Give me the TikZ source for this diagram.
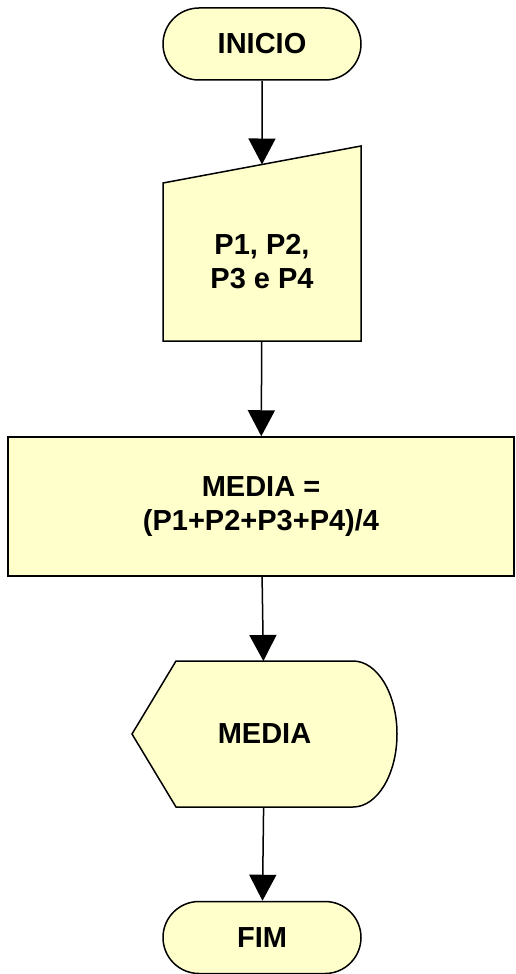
\documentclass[tikz,border=0pt]{standalone}
\usepackage{fontspec}
\setmainfont{Liberation Sans}
\usetikzlibrary{arrows.meta,shapes.misc,backgrounds}
\definecolor{boxfill}{HTML}{FFFFCC}

\begin{document}
\begin{tikzpicture}[x=0.5pt, y=-0.5pt,
    every node/.style={font=\fontsize{14.5pt}{17pt}\selectfont\bfseries, align=center},
    terminal/.style={rounded rectangle, draw, fill=boxfill, line width=0.75pt,
        minimum width=99pt, minimum height=36pt, inner sep=0pt},
    process/.style={rectangle, draw, fill=boxfill, line width=0.75pt,
        minimum width=253pt, minimum height=69.5pt},
    holder/.style={outer sep=0pt},
    outline/.style={draw, fill=boxfill, line width=0.75pt},
    flow/.style={line width=0.75pt, -{Triangle[length=13pt, width=13.5pt]}}]

    \useasboundingbox (0,0) rectangle (515,974);

    % Nodes
    \node[terminal] (ini) at (262,44) {INICIO};
    \node[holder, minimum width=99pt, minimum height=79pt] (inp) at (262,262) {P1, P2,\\P3 e P4};
    \node[process] (media) at (261,506.5) {MEDIA =\\(P1+P2+P3+P4)/4};
    \node[holder, minimum width=88.5pt, minimum height=73pt] (disp) at (264.5,734) {MEDIA};
    \node[terminal] (fim) at (262,937.5) {FIM};

    % Shapes behind the texts
    \begin{scope}[on background layer]
        \draw[outline] (inp.south west) -- (inp.north west)
            -- ([yshift=18.5pt]inp.north east) -- (inp.south east) -- cycle;
        \draw[outline] (disp.north west) -- (disp.north east)
            arc[start angle=90, end angle=-90, x radius=22pt, y radius=36.5pt]
            -- (disp.south west) -- ([xshift=-22pt]disp.west) -- cycle;
    \end{scope}
    \coordinate (inptop) at ([yshift=9.25pt]inp.north);

    % Connectors
    \draw[flow] (ini) -- (inptop);
    \draw[flow] (inp) -- (media);
    \draw[flow] (media) -- (disp);
    \draw[flow] (disp) -- (fim);
\end{tikzpicture}
\end{document}
